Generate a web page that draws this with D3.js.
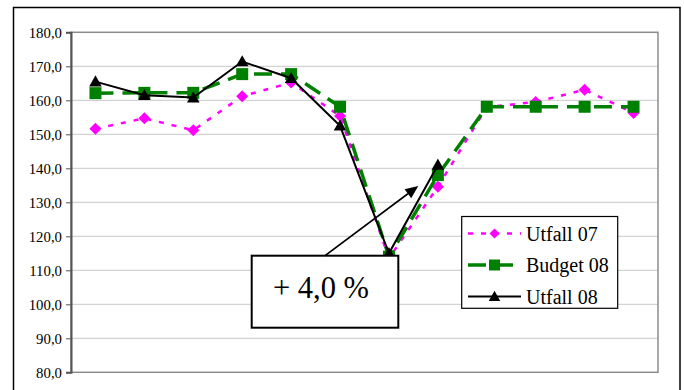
<!DOCTYPE html>
<html><head><meta charset="utf-8">
<script src="https://cdn.jsdelivr.net/npm/d3@7"></script>
<style>html,body{margin:0;padding:0;background:#fff}svg{display:block}</style>
</head><body><svg id="c" width="684" height="390"></svg>
<script>
const months = ["jan","feb","mar","apr","mai","jun","jul","aug","sep","okt","nov","des"];
const utfall07 = [151.6,154.7,151.2,161.2,165.2,155.4,113.5,134.6,158.0,159.5,163.1,156.3];
const budget08 = [162.1,162.2,162.2,167.7,167.7,158.1,114.0,138.0,158.1,158.1,158.1,158.1];
const utfall08 = [165.5,161.5,160.8,171.4,166.5,152.5,115.0,141.0];
const yTicks = [80,90,100,110,120,130,140,150,160,170,180];
const seriesNames = ["Utfall 07","Budget 08","Utfall 08"];
const annotationText = "+ 4,0 %";

const svg = d3.select("#c");
const L = 71, R = 658, T = 32.3, B = 372.3;
const x = d3.scalePoint().domain(months).range([L, R]).padding(0.5);
const y = d3.scaleLinear().domain([80, 180]).range([B, T]);
const font = '"Liberation Serif"';

// outer chart border
svg.append("rect").attr("x",13.5).attr("y",7.5).attr("width",666.5).attr("height",400)
  .attr("fill","#fff").attr("stroke","#000").attr("stroke-width",1.5);

// gridlines
svg.append("g").selectAll("line").data(yTicks.filter(d=>d>80 && d<180)).join("line")
  .attr("x1",L).attr("x2",R).attr("y1",d=>y(d)).attr("y2",d=>y(d))
  .attr("stroke","#c8c8c8").attr("stroke-width",1);

// plot border
svg.append("rect").attr("x",L).attr("y",T).attr("width",R-L).attr("height",B-T)
  .attr("fill","none").attr("stroke","#8c8c8c").attr("stroke-width",1.5);

// y axis
const ax = svg.append("g").attr("transform",`translate(${L},0)`)
  .call(d3.axisLeft(y).tickValues(yTicks).tickSize(5).tickPadding(4)
    .tickFormat(d => d3.format(".1f")(d).replace(".", ",")));
ax.attr("font-family", null).attr("font-size", null);
ax.select(".domain").attr("stroke","#555").attr("stroke-width",2);
ax.selectAll(".tick line").attr("stroke","#555").attr("stroke-width",1);
ax.selectAll("text").style("font-family",font).style("font-size","14.8px").attr("fill","#000");

// marker shapes
function diamond(s){return `M0,${-s}L${s},0L0,${s}L${-s},0Z`;}
function square(s){return `M${-s},${-s}H${s}V${s}H${-s}Z`;}
function triangle(s){return `M0,${-s*1.05}L${s*1.05},${s*0.8}L${-s*1.05},${s*0.8}Z`;}

const styles = [
  {data:utfall07,color:"#ff00ff",width:2.5,dash:"5,8",shape:diamond,size:6,lsize:5},
  {data:budget08,color:"#008000",width:3.5,dash:"18,9",shape:square,size:6,lsize:5.5},
  {data:utfall08,color:"#000000",width:2,dash:null,shape:triangle,size:6,lsize:5.5}
];

styles.forEach(st => {
  const pts = st.data.map((v,i)=>[x(months[i]), y(v)]);
  svg.append("path").attr("d", d3.line()(pts)).attr("fill","none")
    .attr("stroke",st.color).attr("stroke-width",st.width)
    .attr("stroke-dasharray",st.dash);
  svg.append("g").selectAll("path").data(pts).join("path")
    .attr("transform",d=>`translate(${d[0]},${d[1]})`)
    .attr("d",st.shape(st.size)).attr("fill",st.color);
});

// annotation
const bx0 = 251.7, bx1 = 398.3, by0 = 255.7, by1 = 327.7;
const tipX = x("jul") + (x("aug")-x("jul"))*0.6, tipY = y(134.8);
const sx = (bx0+bx1)/2, sy = by0;
svg.append("rect").attr("x",bx0).attr("y",by0).attr("width",bx1-bx0).attr("height",by1-by0)
  .attr("fill","#fff").attr("stroke","#000").attr("stroke-width",2);
svg.append("text").attr("x",(bx0+bx1)/2-4).attr("y",298).attr("text-anchor","middle")
  .style("font-family",font).style("font-size","30.5px").text(annotationText);
const ang = Math.atan2(tipY-sy, tipX-sx);
const hl = 13, hw = 5.5;
const bxh = tipX - hl*Math.cos(ang), byh = tipY - hl*Math.sin(ang);
svg.append("line").attr("x1",sx).attr("y1",sy).attr("x2",bxh).attr("y2",byh)
  .attr("stroke","#000").attr("stroke-width",1.6);
svg.append("path").attr("d",
  `M${tipX},${tipY}L${bxh + hw*Math.sin(ang)},${byh - hw*Math.cos(ang)}L${bxh - hw*Math.sin(ang)},${byh + hw*Math.cos(ang)}Z`)
  .attr("fill","#000");

// legend
const lg = svg.append("g");
lg.append("rect").attr("x",461.7).attr("y",216.5).attr("width",156).attr("height",91.8)
  .attr("fill","#fff").attr("stroke","#000").attr("stroke-width",1.2);
const rowY = [233.5, 265, 296.5];
styles.forEach((st,i)=>{
  const cy = rowY[i];
  lg.append("line").attr("x1",468).attr("x2",521).attr("y1",cy).attr("y2",cy)
    .attr("stroke",st.color).attr("stroke-width",st.width)
    .attr("stroke-dasharray",st.dash);
  lg.append("path").attr("transform",`translate(494.5,${cy})`).attr("d",st.shape(st.lsize)).attr("fill",st.color);
  lg.append("text").attr("x",526).attr("y",cy+7).style("font-family",font).style("font-size","20px")
    .text(seriesNames[i]);
});
</script></body></html>
